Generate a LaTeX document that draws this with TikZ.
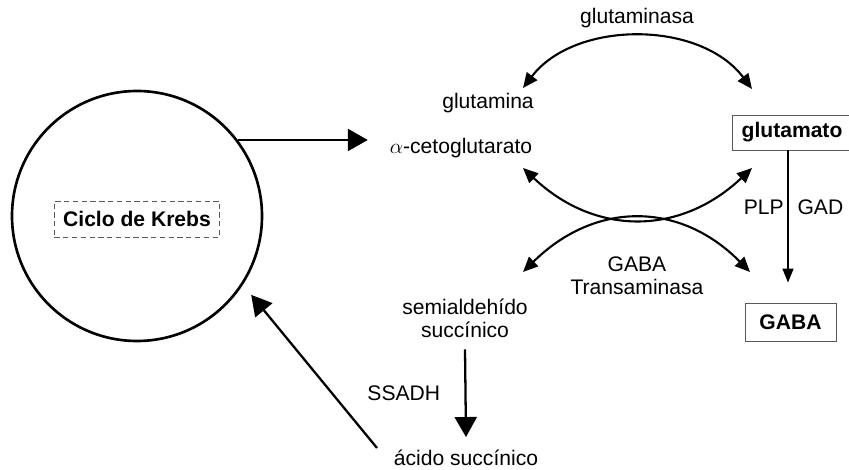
\documentclass[tikz,border=0pt]{standalone}
\usepackage{fontspec}
\setmainfont{Liberation Sans}
\usepackage{xcolor}
\usetikzlibrary{shapes,calc,arrows.meta,positioning}
\definecolor{boxgrey}{rgb}{0.35,0.35,0.35}

\tikzset{
    label/.style={font=\fontsize{12}{13}\selectfont, inner sep=1pt, align=center},
    molbox/.style={draw=boxgrey, line width=0.5pt,
        font=\fontsize{12}{13}\selectfont\bfseries, inner xsep=5pt, inner ysep=4pt},
    bigarrow/.style={line width=1.3pt, -{Triangle[length=4mm,width=4.4mm]}},
    curvearrow/.style={line width=1.2pt,
        {Triangle[length=3mm,width=2.6mm]}-{Triangle[length=3mm,width=2.6mm]}},
    gadarrow/.style={line width=0.9pt, -{Triangle[length=2.8mm,width=2.2mm]}}
}

\begin{document}
\begin{tikzpicture}

    % whole page, 849 x 469 px at 0.02cm per px
    \useasboundingbox (0,0) rectangle (16.98,9.38);

    % Krebs cycle
    \node[circle, draw, line width=1.5pt, minimum size=5.0cm] (krebs) at (2.74,5.06) {};
    \node[molbox, densely dashed, minimum width=3.26cm, minimum height=0.72cm] (ciclo) at (2.74,5.00) {Ciclo de Krebs};

    % metabolites
    \node[label] (glutamina) at (9.76,7.32) {glutamina};
    \node[label] (aceto) at (9.22,6.42) {$\alpha$-cetoglutarato};
    \node[label] (glutaminasa) at (12.74,9.02) {glutaminasa};
    \node[molbox, minimum width=2.3cm, minimum height=0.7cm] (glutamato) at (15.84,6.73) {glutamato};
    \node[molbox, minimum width=1.82cm, minimum height=0.76cm] (gaba) at (15.81,2.94) {GABA};
    \node[label] (transam) at (12.74,3.86) {GABA\\Transaminasa};
    \node[label] (semiald) at (9.30,3.02) {semialdehído\\succínico};
    \node[label] (acido) at (9.32,0.22) {ácido succínico};

    % free ends of the arrows
    \coordinate (gtop l) at (10.46,7.62);
    \coordinate (gtop r) at (15.04,7.60);
    \coordinate (xup l) at (10.46,6.02);
    \coordinate (xup r) at (15.04,6.02);
    \coordinate (xlow l) at (10.46,3.94);
    \coordinate (xlow r) at (15.00,3.94);
    \coordinate (succ end) at (7.54,0.42);

    % Krebs -> alpha-cetoglutarato
    \draw[bigarrow] (krebs.37) -- ($(aceto.west |- krebs.37)+(-0.4,0)$);

    % glutaminasa
    \draw[curvearrow] (gtop l) .. controls (11.50,8.98) and (14.00,8.98) .. (gtop r);

    % GABA transaminasa
    \draw[curvearrow] (xup l) .. controls (11.90,4.66) and (13.60,4.66) .. (xup r);
    \draw[curvearrow] (xlow l) .. controls (11.90,5.36) and (13.60,5.36) .. (xlow r);

    % GAD
    \draw[gadarrow] (glutamato.south -| 15.76,0) -- ($(gaba.north -| 15.76,0)+(0,0.4)$)
        node[label, pos=0.43, left=1pt] (plp) {PLP}
        node[label, pos=0.43, right=4pt] (gad) {GAD};

    % SSADH
    \draw[bigarrow] ($(semiald.south)+(0,-0.2)$) -- ($(acido.north)+(0,0.22)$)
        node[label, midway, left=0.45cm] (ssadh) {SSADH};

    % back to the cycle
    \draw[bigarrow, shorten >=0.26cm] (succ end) -- (krebs.-33.5);

\end{tikzpicture}
\end{document}
